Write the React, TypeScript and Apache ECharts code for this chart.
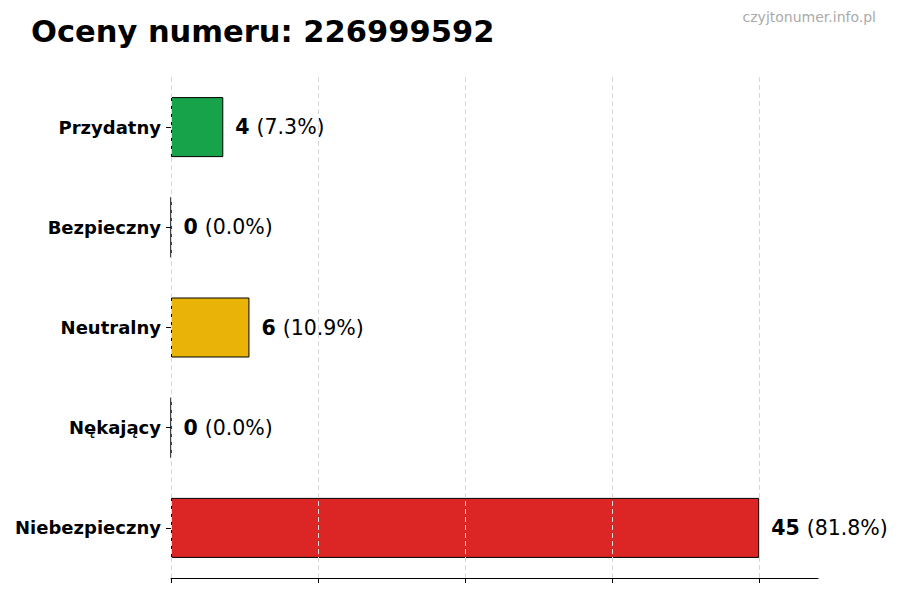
import React, { useEffect, useRef } from 'react';
import * as echarts from 'echarts';

const categories = ['Przydatny', 'Bezpieczny', 'Neutralny', 'Nękający', 'Niebezpieczny'];
const counts = [4, 0, 6, 0, 45];
const percents = ['7.3', '0.0', '10.9', '0.0', '81.8'];
const colors = ['#16a34a', '#16a34a', '#eab308', '#dc2626', '#dc2626'];
const xTicks = [0, 11.25, 22.5, 33.75, 45];

const FONT = '"DejaVu Sans", sans-serif';

const App: React.FC = () => {
  const chartRef = useRef<HTMLDivElement>(null);

  useEffect(() => {
    if (!chartRef.current) return;
    const chart = echarts.init(chartRef.current, null, { renderer: 'svg' });

    const option = {
      animation: false,
      backgroundColor: '#ffffff',
      title: [
        {
          text: 'Oceny numeru: 226999592',
          left: 31,
          top: 16,
          padding: 0,
          textStyle: { fontFamily: FONT, fontSize: 30.5, fontWeight: 'bold', color: '#000' },
        },
        {
          text: 'czyjtonumer.info.pl',
          right: 24,
          top: 10,
          padding: 0,
          textStyle: {
            fontFamily: FONT,
            fontSize: 14,
            fontWeight: 'normal',
            color: '#aaaaaa',
          },
        },
      ],
      grid: { left: 171, right: 82, top: 77, bottom: 22 },
      xAxis: {
        type: 'value',
        min: 0,
        max: 49.5,
        interval: 11.25,
        z: 3,
        axisLine: { show: true, lineStyle: { color: '#000', width: 1 } },
        axisTick: { show: true, length: 5, customValues: xTicks, lineStyle: { color: '#000' } },
        axisLabel: { show: false, customValues: xTicks },
        splitLine: { show: true, lineStyle: { color: '#d8d8d8', type: [5, 3], width: 1 } },
      },
      yAxis: {
        type: 'category',
        data: categories,
        inverse: true,
        axisLine: { show: false },
        axisTick: { show: true, length: 5, alignWithLabel: true, lineStyle: { color: '#000' } },
        axisLabel: {
          margin: 10,
          fontFamily: FONT,
          fontSize: 18,
          fontWeight: 'bold',
          color: '#000',
        },
      },
      series: [
        {
          type: 'bar',
          barWidth: 60,
          data: counts.map((v, i) => ({
            value: v,
            itemStyle: { color: colors[i], borderColor: '#000', borderWidth: 1 },
          })),
          label: {
            show: true,
            position: 'right',
            distance: 12,
            formatter: (p: any) => `{b|${counts[p.dataIndex]}}{s| }{n|(${percents[p.dataIndex]}%)}`,
            rich: {
              b: { fontFamily: FONT, fontSize: 20.5, fontWeight: 'bold', color: '#000' },
              s: { fontFamily: FONT, fontSize: 20.5, width: 7 },
              n: { fontFamily: FONT, fontSize: 20.5, color: '#000' },
            },
          },
        },
      ],
    };

    chart.setOption(option);
    return () => {
      chart.dispose();
    };
  }, []);

  return (
    <div
      ref={chartRef}
      style={{ position: 'fixed', left: 0, top: 0, width: 900, height: 600 }}
    />
  );
};

export default App;
